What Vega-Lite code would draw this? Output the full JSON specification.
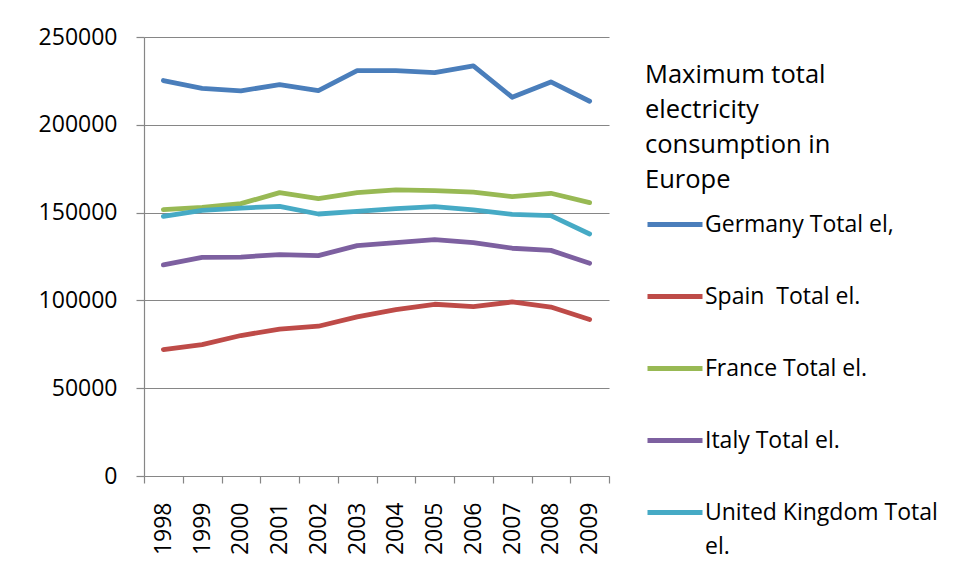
{
  "$schema": "https://vega.github.io/schema/vega-lite/v6.json",
  "width": 465,
  "height": 439,
  "autosize": {"type": "none"},
  "padding": {"left": 144, "top": 37, "right": 349, "bottom": 104},
  "background": "white",
  "config": {
    "view": {"stroke": null},
    "font": "Open Sans",
    "style": {"guide-label": {"lineHeight": 34}}
  },
  "data": {
    "values": [
      {"year": "1998", "series": "Germany Total el,", "value": 225200},
      {"year": "1999", "series": "Germany Total el,", "value": 220800},
      {"year": "2000", "series": "Germany Total el,", "value": 219300},
      {"year": "2001", "series": "Germany Total el,", "value": 222900},
      {"year": "2002", "series": "Germany Total el,", "value": 219500},
      {"year": "2003", "series": "Germany Total el,", "value": 230900},
      {"year": "2004", "series": "Germany Total el,", "value": 230900},
      {"year": "2005", "series": "Germany Total el,", "value": 229700},
      {"year": "2006", "series": "Germany Total el,", "value": 233500},
      {"year": "2007", "series": "Germany Total el,", "value": 215700},
      {"year": "2008", "series": "Germany Total el,", "value": 224400},
      {"year": "2009", "series": "Germany Total el,", "value": 213400},
      {"year": "1998", "series": "Spain  Total el.", "value": 72000},
      {"year": "1999", "series": "Spain  Total el.", "value": 74800},
      {"year": "2000", "series": "Spain  Total el.", "value": 80000},
      {"year": "2001", "series": "Spain  Total el.", "value": 83700},
      {"year": "2002", "series": "Spain  Total el.", "value": 85300},
      {"year": "2003", "series": "Spain  Total el.", "value": 90600},
      {"year": "2004", "series": "Spain  Total el.", "value": 94800},
      {"year": "2005", "series": "Spain  Total el.", "value": 97800},
      {"year": "2006", "series": "Spain  Total el.", "value": 96500},
      {"year": "2007", "series": "Spain  Total el.", "value": 99100},
      {"year": "2008", "series": "Spain  Total el.", "value": 96200},
      {"year": "2009", "series": "Spain  Total el.", "value": 89100},
      {"year": "1998", "series": "France Total el.", "value": 151700},
      {"year": "1999", "series": "France Total el.", "value": 153000},
      {"year": "2000", "series": "France Total el.", "value": 155100},
      {"year": "2001", "series": "France Total el.", "value": 161400},
      {"year": "2002", "series": "France Total el.", "value": 158000},
      {"year": "2003", "series": "France Total el.", "value": 161400},
      {"year": "2004", "series": "France Total el.", "value": 162900},
      {"year": "2005", "series": "France Total el.", "value": 162500},
      {"year": "2006", "series": "France Total el.", "value": 161700},
      {"year": "2007", "series": "France Total el.", "value": 159100},
      {"year": "2008", "series": "France Total el.", "value": 161000},
      {"year": "2009", "series": "France Total el.", "value": 155700},
      {"year": "1998", "series": "Italy Total el.", "value": 120200},
      {"year": "1999", "series": "Italy Total el.", "value": 124500},
      {"year": "2000", "series": "Italy Total el.", "value": 124700},
      {"year": "2001", "series": "Italy Total el.", "value": 126100},
      {"year": "2002", "series": "Italy Total el.", "value": 125500},
      {"year": "2003", "series": "Italy Total el.", "value": 131200},
      {"year": "2004", "series": "Italy Total el.", "value": 132900},
      {"year": "2005", "series": "Italy Total el.", "value": 134600},
      {"year": "2006", "series": "Italy Total el.", "value": 132900},
      {"year": "2007", "series": "Italy Total el.", "value": 129700},
      {"year": "2008", "series": "Italy Total el.", "value": 128500},
      {"year": "2009", "series": "Italy Total el.", "value": 121100},
      {"year": "1998", "series": "United Kingdom Total el.", "value": 147900},
      {"year": "1999", "series": "United Kingdom Total el.", "value": 151300},
      {"year": "2000", "series": "United Kingdom Total el.", "value": 152600},
      {"year": "2001", "series": "United Kingdom Total el.", "value": 153600},
      {"year": "2002", "series": "United Kingdom Total el.", "value": 149200},
      {"year": "2003", "series": "United Kingdom Total el.", "value": 150700},
      {"year": "2004", "series": "United Kingdom Total el.", "value": 152300},
      {"year": "2005", "series": "United Kingdom Total el.", "value": 153400},
      {"year": "2006", "series": "United Kingdom Total el.", "value": 151500},
      {"year": "2007", "series": "United Kingdom Total el.", "value": 149000},
      {"year": "2008", "series": "United Kingdom Total el.", "value": 148300},
      {"year": "2009", "series": "United Kingdom Total el.", "value": 137800}
    ]
  },
  "mark": {"type": "line", "strokeWidth": 4.8, "strokeCap": "round", "strokeJoin": "round"},
  "encoding": {
    "x": {
      "field": "year",
      "type": "ordinal",
      "scale": {"paddingInner": 0, "paddingOuter": 0},
      "axis": {
        "title": null,
        "labelAngle": -90,
        "labelFont": "Open Sans",
        "labelFontSize": 23,
        "labelColor": "black",
        "labelPadding": 19,
        "tickSize": 7,
        "tickBand": "extent",
        "tickColor": "#868686",
        "domainColor": "#868686",
        "tickWidth": 1.2,
        "domainWidth": 1.2,
        "grid": false
      }
    },
    "y": {
      "field": "value",
      "type": "quantitative",
      "scale": {"domain": [0, 250000], "nice": false},
      "axis": {
        "title": null,
        "values": [0, 50000, 100000, 150000, 200000, 250000],
        "format": "d",
        "labelFont": "Open Sans",
        "labelFontSize": 23,
        "labelColor": "black",
        "labelPadding": 19,
        "tickSize": 8,
        "tickColor": "#868686",
        "domainColor": "#868686",
        "tickWidth": 1.2,
        "domainWidth": 1.2,
        "grid": true,
        "gridColor": "#868686",
        "gridWidth": 1.2
      }
    },
    "color": {
      "field": "series",
      "type": "nominal",
      "scale": {
        "domain": ["Germany Total el,", "Spain  Total el.", "France Total el.", "Italy Total el.", "United Kingdom Total el."],
        "range": ["#4A7EBB", "#BE4B48", "#98B954", "#7D60A0", "#46AAC5"]
      },
      "legend": {
        "orient": "right",
        "offset": 10,
        "padding": 26,
        "title": ["Maximum total", "electricity", "consumption in", "Europe"],
        "titleFont": "Open Sans",
        "titleFontSize": 25.5,
        "titleFontWeight": "normal",
        "titleColor": "black",
        "titleLineHeight": 35,
        "titleLimit": 400,
        "titlePadding": 1,
        "labelFont": "Open Sans",
        "labelFontSize": 23,
        "labelColor": "black",
        "labelOffset": 0,
        "labelLimit": 400,
        "labelExpr": "datum.label == 'United Kingdom Total el.' ? ['United Kingdom Total', 'el.'] : (datum.label == 'Spain  Total el.' ? 'Spain\u00a0 Total el.' : datum.label)",
        "symbolType": "stroke",
        "symbolSize": 3025,
        "symbolStrokeWidth": 4.8,
        "rowPadding": 30
      }
    }
  }
}
